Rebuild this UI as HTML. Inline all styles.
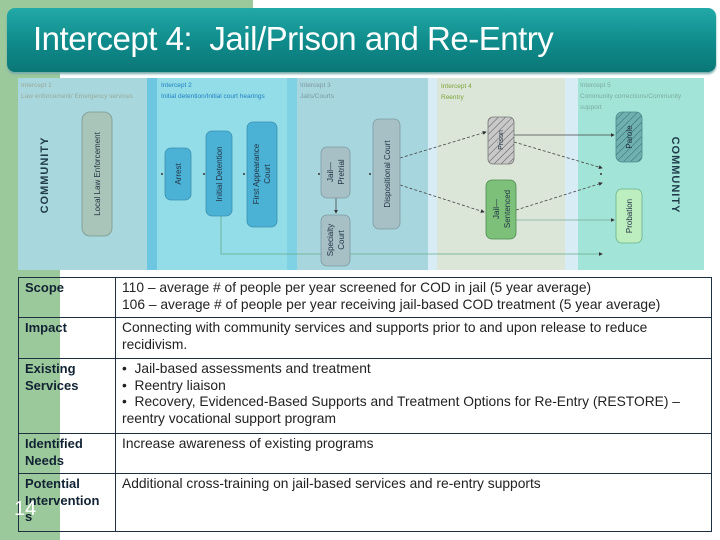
<!DOCTYPE html>
<html><head><meta charset="utf-8"><style>
body{margin:0;width:720px;height:540px;background:#fff;position:relative;overflow:hidden;font-family:"Liberation Sans",sans-serif}
.g{position:absolute;background:#9cc99b}
#hdr{position:absolute;left:7px;top:8px;width:709px;height:64px;border-radius:8px;background:linear-gradient(#22a9a8,#0f8a8a 55%,#0b7777);box-shadow:0 2px 2px #7aa}
#hdr span{position:absolute;left:26px;top:12px;color:#fff;font-size:33px;letter-spacing:-0.5px}
table{position:absolute;left:18px;top:277px;width:694px;border-collapse:collapse;font-size:13.8px;color:#222}
td{border:1.5px solid #1e3040;vertical-align:top;padding:2px 6px;line-height:16.5px}
td.h{width:84px;font-weight:bold;color:#123;padding-left:6px;font-size:13px}
</style></head><body>
<div class="g" style="left:0;top:0;width:253px;height:12px"></div>
<div class="g" style="left:0;top:0;width:60px;height:540px"></div>
<div id="hdr"><span>Intercept 4:&nbsp; Jail/Prison and Re-Entry</span></div>
<svg style="position:absolute;left:0;top:0" width="720" height="540" font-family="Liberation Sans, sans-serif">
<defs>
<pattern id="h1" width="5" height="5" patternUnits="userSpaceOnUse" patternTransform="rotate(45)"><rect width="5" height="5" fill="#c9c9c9"/><line x1="0" y1="0" x2="0" y2="5" stroke="#555" stroke-width="1"/></pattern>
<pattern id="h2" width="5" height="5" patternUnits="userSpaceOnUse" patternTransform="rotate(45)"><rect width="5" height="5" fill="#6fb1b0"/><line x1="0" y1="0" x2="0" y2="5" stroke="#35696a" stroke-width="1"/></pattern>
<marker id="a" markerWidth="5" markerHeight="5" refX="4" refY="2.5" orient="auto"><path d="M0,0L5,2.5L0,5z" fill="#333"/></marker>
</defs>
<rect x="18" y="78" width="686" height="192" fill="#fff"/>
<rect x="18" y="78" width="129" height="192" fill="#a9d7de"/>
<rect x="147" y="78" width="10" height="192" fill="#6dc6e2"/>
<rect x="157" y="78" width="130" height="192" fill="#93dde8"/>
<rect x="287" y="78" width="10" height="192" fill="#7fd2e3"/>
<rect x="297" y="78" width="131" height="192" fill="#a8d6df"/>
<rect x="428" y="78" width="9" height="192" fill="#d8ecf6"/>
<rect x="437" y="78" width="128" height="192" fill="#dbe6d9"/>
<rect x="565" y="78" width="13" height="192" fill="#d8ecf6"/>
<rect x="578" y="78" width="126" height="192" fill="#a2e4d8"/>
<g font-size="6.5">
<text x="21" y="87" fill="#98aa98">Intercept 1</text><text x="21" y="98" fill="#98aa98">Law enforcement/ Emergency services</text>
<text x="161" y="87" fill="#1e7fc0">Intercept 2</text><text x="161" y="98" fill="#1e7fc0">Initial detention/Initial court hearings</text>
<text x="300" y="87" fill="#7a9aa0">Intercept 3</text><text x="300" y="98" fill="#7a9aa0">Jails/Courts</text>
<text x="441" y="88" fill="#7aa33a">Intercept 4</text><text x="441" y="99" fill="#7aa33a">Reentry</text>
<text x="580" y="87" fill="#7cac9e">Intercept 5</text><text x="580" y="98" fill="#7cac9e">Community corrections/Community</text><text x="580" y="109" fill="#7cac9e">support</text>
</g>
<text transform="translate(48,175) rotate(-90)" text-anchor="middle" font-size="11" font-weight="bold" fill="#1f3b4a" letter-spacing="1">COMMUNITY</text>
<text transform="translate(672,175) rotate(90)" text-anchor="middle" font-size="11" font-weight="bold" fill="#1f3b4a" letter-spacing="1">COMMUNITY</text>
<g stroke="#444" stroke-width="0.8" fill="none">
<path d="M400,158 L486,132" stroke-dasharray="3,2" marker-end="url(#a)"/>
<path d="M400,185 L484,212" stroke-dasharray="3,2" marker-end="url(#a)"/>
<path d="M514,142 L602,168" stroke-dasharray="3,2" marker-end="url(#a)"/>
<path d="M516,210 L602,183" stroke-dasharray="3,2" marker-end="url(#a)"/>
<path d="M514,135 L614,135" marker-end="url(#a)"/>
<path d="M516,220 L614,220" stroke="#7a9" marker-end="url(#a)"/>
<path d="M221,216 L221,254 L602,254" stroke="#6a8" marker-end="url(#a)"/>
<path d="M336,198 L336,213" marker-end="url(#a)"/>
</g>
<g fill="#333"><circle cx="162" cy="174" r="1"/><circle cx="204" cy="174" r="1"/><circle cx="244" cy="174" r="1"/><circle cx="319" cy="174" r="1"/><circle cx="370" cy="174" r="1"/><circle cx="601" cy="174" r="1"/></g>
<g stroke-width="0.8">
<rect x="82" y="112" width="30" height="124" rx="8" fill="#a9c4b8" stroke="#7a9a90"/>
<rect x="165" y="148" width="26" height="52" rx="6" fill="#4bb2d6" stroke="#3a90b0"/>
<rect x="206" y="131" width="26" height="85" rx="6" fill="#4bb2d6" stroke="#3a90b0"/>
<rect x="247" y="122" width="30" height="105" rx="6" fill="#4bb2d6" stroke="#3a90b0"/>
<rect x="321" y="147" width="29" height="51" rx="6" fill="#a6c0c6" stroke="#7d9aa0"/>
<rect x="321" y="215" width="29" height="51" rx="6" fill="#a6c0c6" stroke="#7d9aa0"/>
<rect x="373" y="119" width="27" height="110" rx="6" fill="#a6c0c6" stroke="#7d9aa0"/>
<rect x="488" y="117" width="26" height="47" rx="5" fill="url(#h1)" stroke="#777"/>
<rect x="486" y="180" width="30" height="59" rx="6" fill="#7cc07a" stroke="#4c8a4c"/>
<rect x="616" y="112" width="26" height="50" rx="6" fill="url(#h2)" stroke="#4a8a8a"/>
<rect x="616" y="189" width="26" height="54" rx="6" fill="#bdeec0" stroke="#6ab08a"/>
</g>
<g font-size="8" fill="#234" text-anchor="middle">
<text transform="translate(100,174) rotate(-90)">Local Law Enforcement</text>
<text transform="translate(181,174) rotate(-90)">Arrest</text>
<text transform="translate(222,174) rotate(-90)">Initial Detention</text>
<text transform="translate(259,174) rotate(-90)">First Appearance</text><text transform="translate(270,174) rotate(-90)">Court</text>
<text transform="translate(333,172) rotate(-90)">Jail—</text><text transform="translate(344,172) rotate(-90)">Pretrial</text>
<text transform="translate(333,240) rotate(-90)">Specialty</text><text transform="translate(344,240) rotate(-90)">Court</text>
<text transform="translate(390,174) rotate(-90)">Dispositional Court</text>
<text transform="translate(503,140) rotate(-90)" font-size="7">Prison</text>
<text transform="translate(499,209) rotate(-90)">Jail—</text><text transform="translate(510,209) rotate(-90)">Sentenced</text>
<text transform="translate(632,137) rotate(-90)">Parole</text>
<text transform="translate(632,216) rotate(-90)">Probation</text>
</g>
</svg>
<table>
<tr style="height:40px"><td class="h">Scope</td><td>110 – average # of people per year screened for COD in jail (5 year average)<br>106 – average # of people per year receiving jail-based COD treatment (5 year average)</td></tr>
<tr style="height:41px"><td class="h">Impact</td><td>Connecting with community services and supports prior to and upon release to reduce recidivism.</td></tr>
<tr style="height:75px"><td class="h">Existing Services</td><td>• &nbsp;Jail-based assessments and treatment<br>• &nbsp;Reentry liaison<br>• &nbsp;Recovery, Evidenced-Based Supports and Treatment Options for Re-Entry (RESTORE) – reentry vocational support program</td></tr>
<tr style="height:40px"><td class="h">Identified Needs</td><td>Increase awareness of existing programs</td></tr>
<tr style="height:58px"><td class="h">Potential Intervention s</td><td>Additional cross-training on jail-based services and re-entry supports</td></tr>
</table>
<div style="position:absolute;left:14px;top:498px;font-size:20px;color:#fff">14</div>
</body></html>
